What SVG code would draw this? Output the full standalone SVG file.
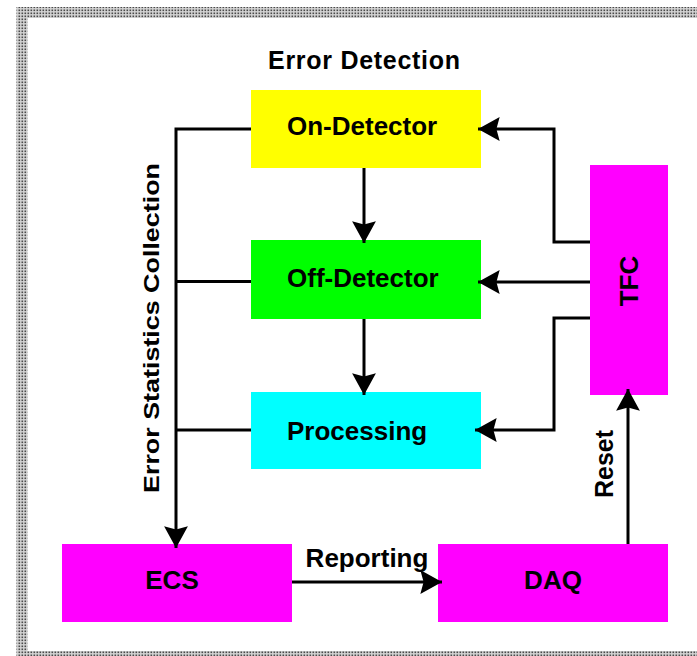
<svg xmlns="http://www.w3.org/2000/svg" width="697" height="656" viewBox="0 0 697 656">
<style>
text{font-family:"Liberation Sans",Arial,sans-serif;font-weight:bold;fill:#000}
.lbl{font-size:26px}
.c{fill:none;stroke:#000;stroke-width:3}
</style>
<defs>
<pattern id="dots" width="3" height="3" patternUnits="userSpaceOnUse">
<rect width="3" height="3" fill="#d4d4d4"/>
<rect x="0.5" y="0.5" width="1.6" height="1.6" fill="#4a4a4a"/>
</pattern>
<marker id="ah" markerUnits="userSpaceOnUse" markerWidth="24" markerHeight="26" viewBox="-21 -12 22 24" refX="0" refY="0" orient="auto">
<path d="M0,0 L-20,-11 L-17,0 L-20,11 Z" fill="#000"/>
</marker>
</defs>
<rect id="frame" x="22" y="12.5" width="700" height="644" fill="none" stroke="url(#dots)" stroke-width="11"/>
<text x="364" y="69" text-anchor="middle" font-size="25" textLength="192">Error Detection</text>
<g id="on-detector"><rect x="251" y="90" width="230" height="78" fill="#FFFF00"/><text class="lbl" x="287" y="135">On-Detector</text></g>
<g id="off-detector"><rect x="251" y="240" width="230" height="79" fill="#00FF00"/><text class="lbl" x="287" y="287">Off-Detector</text></g>
<g id="processing"><rect x="251" y="392" width="230" height="77" fill="#00FFFF"/><text class="lbl" x="287" y="440">Processing</text></g>
<g id="tfc"><rect x="590" y="165" width="78" height="230" fill="#FF00FF"/><text class="lbl" transform="translate(638,281) rotate(-90)" text-anchor="middle">TFC</text></g>
<g id="ecs"><rect x="62" y="544" width="230" height="78" fill="#FF00FF"/><text class="lbl" x="172" y="589" text-anchor="middle">ECS</text></g>
<g id="daq"><rect x="438" y="544" width="230" height="78" fill="#FF00FF"/><text class="lbl" x="553" y="589" text-anchor="middle">DAQ</text></g>
<g id="connectors">
<path class="c" d="M251,129 H176 V548" marker-end="url(#ah)"/>
<path class="c" d="M251,281.5 H176"/>
<path class="c" d="M251,430 H176"/>
<path class="c" d="M364,168 V243" marker-end="url(#ah)"/>
<path class="c" d="M364,319 V395" marker-end="url(#ah)"/>
<path class="c" d="M590,242 H554 V129 H478" marker-end="url(#ah)"/>
<path class="c" d="M590,282 H478" marker-end="url(#ah)"/>
<path class="c" d="M590,318 H554 V430 H475" marker-end="url(#ah)"/>
<path class="c" d="M292,582 H442" marker-end="url(#ah)"/>
<path class="c" d="M628,544 V389" marker-end="url(#ah)"/>
<text x="367" y="567" text-anchor="middle" font-size="26">Reporting</text>
<text transform="translate(613,464) rotate(-90)" text-anchor="middle" font-size="25">Reset</text>
<text transform="translate(159,328) rotate(-90)" text-anchor="middle" font-size="22" textLength="330" lengthAdjust="spacingAndGlyphs">Error Statistics Collection</text>
</g>
</svg>
